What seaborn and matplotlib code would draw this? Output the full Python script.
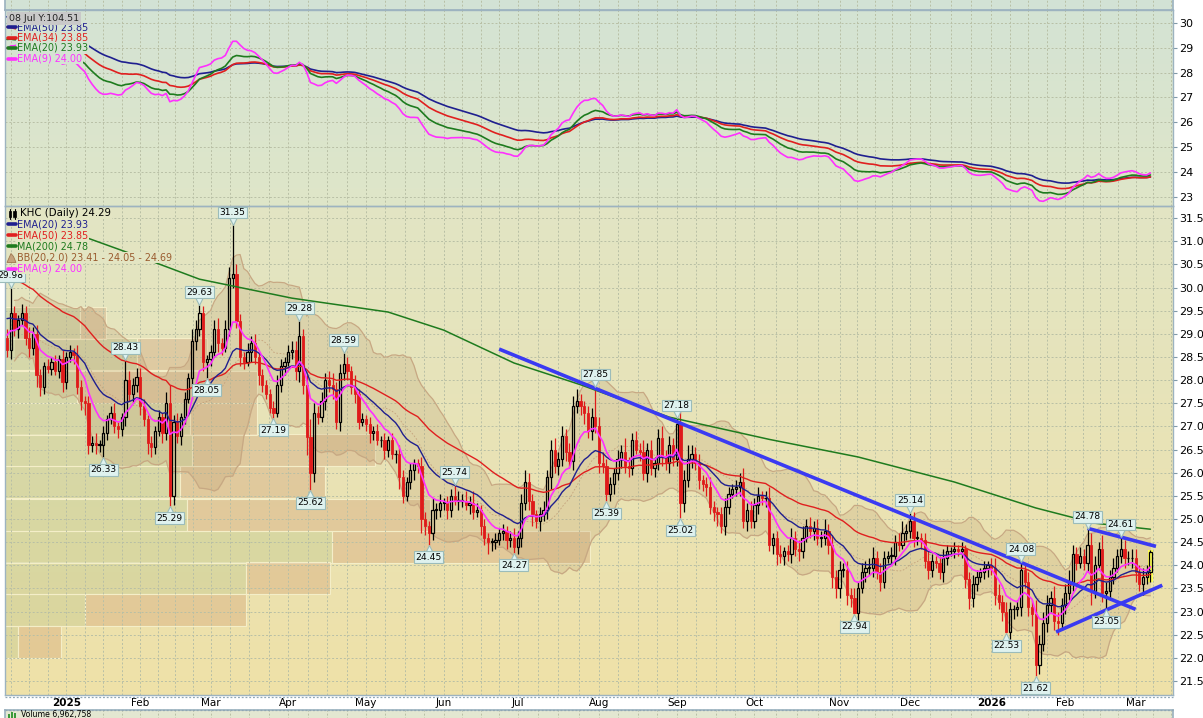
import numpy as np
import pandas as pd
import matplotlib
matplotlib.use("Agg")
import matplotlib.pyplot as plt
import seaborn as sns
from matplotlib import font_manager
from matplotlib.colors import LinearSegmentedColormap, to_rgba
from matplotlib.patches import Rectangle, Polygon
from matplotlib.lines import Line2D
from matplotlib.transforms import offset_copy

sns.set_theme(style="white")
plt.rcParams["font.family"] = ["DejaVu Sans"]

# ---------------- data ----------------
holidays = ["2024-12-25", "2025-01-01", "2025-01-09", "2025-01-20", "2025-02-17",
            "2025-04-18", "2025-05-26", "2025-06-19", "2025-07-04", "2025-09-01",
            "2025-11-27", "2025-12-25", "2026-01-01", "2026-01-19", "2026-02-16"]
dates = pd.bdate_range("2024-12-09", "2026-03-06", freq="C", holidays=holidays)

first_open = 28.90
close = [
    # Dec 2024
    28.65, 29.45, 29.10, 29.30, 29.45, 28.90, 28.70, 29.00, 28.10, 27.85, 28.30, 28.25, 28.40, 28.20, 28.45, 27.95,
    # Jan 2025
    28.50, 28.60, 28.55, 27.85, 27.55, 27.50, 26.60, 26.65, 26.60, 26.60, 26.85, 27.15, 27.30, 27.00, 26.95, 27.20,
    28.00, 27.70, 27.90, 28.07,
    # Feb
    27.45, 27.15, 26.65, 26.55, 26.90, 27.20, 26.85, 27.50, 25.50, 27.10, 26.80, 27.20, 27.60, 28.05, 28.85, 29.10,
    29.45, 28.40, 28.45,
    # Mar
    28.60, 29.10, 28.80, 28.70, 29.10, 30.20, 30.30, 29.27, 28.50, 28.40, 28.60, 28.80, 28.50, 28.10, 27.90, 27.70,
    27.40, 27.30, 27.90, 28.30, 28.40,
    # Apr
    28.60, 28.65, 28.20, 28.95, 27.90, 26.77, 26.00, 27.30, 27.20, 27.55, 28.00, 27.90, 27.80, 27.10, 28.15, 28.35,
    28.20, 27.85, 27.70, 27.10, 27.15,
    # May
    27.05, 26.85, 26.90, 26.70, 26.70, 26.50, 26.70, 26.40, 26.40, 25.90, 25.50, 25.80, 26.05, 26.20, 26.15, 25.00,
    24.85, 24.70, 25.20, 25.20, 25.35,
    # Jun
    25.35, 25.20, 25.50, 25.40, 25.40, 25.40, 25.30, 25.35, 25.15, 25.20, 24.85, 24.60, 24.50, 24.50, 24.55, 24.70,
    24.75, 24.55, 24.60, 24.40,
    # Jul
    24.60, 25.35, 25.80, 25.40, 25.10, 24.95, 25.10, 25.20, 25.90, 26.50, 26.15, 26.30, 26.80, 26.45, 26.25, 27.45,
    27.55, 27.45, 27.30, 26.90, 27.20, 27.00,
    # Aug
    26.20, 26.15, 25.55, 25.75, 26.00, 26.30, 26.45, 26.15, 26.10, 26.70, 26.50, 26.45, 26.00, 26.50, 26.10, 26.20,
    26.75, 26.35, 26.20, 26.60, 26.30,
    # Sep
    27.05, 25.35, 25.85, 26.30, 26.40, 26.20, 25.85, 25.75, 25.70, 25.25, 25.15, 25.10, 24.85, 25.25, 25.55, 25.65,
    25.70, 25.80, 24.95, 25.20, 24.95,
    # Oct
    25.30, 25.50, 25.45, 25.45, 24.45, 24.60, 24.25, 24.20, 24.30, 24.25, 24.60, 24.35, 24.30, 24.60, 24.85, 24.75,
    24.80, 24.60, 24.60, 24.75, 24.45, 23.75, 23.50,
    # Nov
    23.90, 23.90, 23.35, 23.30, 22.97, 23.50, 23.85, 23.95, 23.95, 24.15, 23.85, 23.65, 24.15, 24.20, 24.20, 24.50,
    24.45, 24.70, 24.75,
    # Dec
    24.95, 24.60, 24.60, 24.55, 24.10, 23.90, 24.10, 24.05, 23.85, 24.15, 24.30, 24.30, 24.35, 24.30, 24.35, 23.70,
    23.30, 23.60, 23.75, 23.85, 23.95, 24.00,
    # Jan 2026
    23.95, 23.35, 23.20, 23.00, 22.55, 23.05, 23.05, 23.10, 23.90, 23.65, 23.10, 22.95, 21.85, 22.30, 22.75, 23.15,
    23.30, 22.80, 22.75, 23.15,
    # Feb
    23.40, 23.65, 24.25, 24.05, 24.20, 24.05, 24.45, 23.45, 24.00, 24.35, 23.40, 23.45, 23.75, 23.95, 24.20, 24.35,
    24.15, 24.15, 24.15,
    # Mar
    23.85, 23.60, 23.75, 23.85, 24.29,
]

# wick lengths above / below the body, in cents
up_wick = [
    20, 53, 15, 10, 20, 15, 25, 15, 20, 15, 10, 15, 10, 15, 10, 20,
    10, 15, 10, 20, 15, 10, 15, 15, 20, 10, 15, 10, 15, 20, 10, 10, 40, 20, 15, 20,
    20, 15, 10, 15, 10, 15, 10, 25, 40, 15, 20, 10, 15, 10, 25, 20, 18, 15, 10,
    15, 20, 25, 10, 20, 25, 50, 20, 15, 10, 20, 15, 20, 10, 15, 10, 10, 15, 20, 15, 10,
    15, 20, 20, 30, 15, 20, 40, 20, 15, 20, 15, 20, 25, 15, 20, 20, 15, 10, 25, 10, 15,
    10, 15, 10, 15, 10, 15, 10, 15, 10, 20, 15, 10, 15, 10, 10, 20, 15, 10, 25, 15, 20,
    10, 15, 15, 20, 20, 15, 20, 15, 25, 15, 10, 15, 10, 10, 15, 10, 15, 10, 15, 20,
    15, 20, 25, 20, 15, 10, 15, 20, 15, 20, 25, 15, 20, 15, 20, 20, 25, 15, 10, 15, 20, 30,
    20, 25, 15, 15, 10, 20, 15, 30, 20, 15, 20, 15, 25, 15, 20, 15, 20, 25, 15, 20, 15,
    10, 35, 20, 30, 20, 15, 20, 10, 15, 20, 15, 10, 15, 20, 15, 10, 15, 20, 30, 15, 20,
    15, 20, 10, 15, 25, 10, 15, 20, 10, 15, 20, 15, 20, 25, 15, 20, 15, 20, 15, 25, 15, 20, 15,
    20, 15, 20, 15, 20, 15, 20, 15, 20, 25, 15, 20, 15, 10, 20, 15, 20, 25, 15,
    20, 20, 15, 10, 15, 20, 15, 10, 15, 20, 15, 10, 15, 10, 15, 10, 15, 20, 15, 10, 15, 10,
    15, 20, 25, 15, 20, 15, 10, 15, 18, 15, 20, 15, 30, 20, 25, 20, 15, 25, 20, 15,
    20, 25, 20, 15, 20, 15, 33, 25, 20, 15, 30, 20, 15, 20, 15, 26, 20, 15, 20,
    20, 15, 20, 15, 5,
]
down_wick = [
    15, 20, 15, 20, 10, 15, 20, 15, 25, 20, 15, 10, 15, 10, 15, 20,
    15, 10, 20, 15, 20, 25, 20, 15, 20, 15, 27, 15, 10, 15, 20, 15, 20, 15, 20, 15,
    20, 15, 25, 20, 15, 10, 20, 15, 21, 20, 15, 20, 15, 10, 15, 20, 15, 20, 35,
    15, 10, 20, 15, 10, 15, 20, 15, 20, 15, 10, 20, 15, 20, 15, 10, 11, 15, 10, 15, 20,
    10, 15, 20, 25, 20, 38, 30, 20, 15, 10, 20, 15, 20, 15, 20, 15, 20, 15, 20, 15, 10,
    15, 20, 15, 10, 15, 20, 15, 10, 20, 25, 15, 10, 15, 20, 15, 30, 20, 25, 15, 20, 15,
    15, 20, 15, 10, 20, 15, 10, 20, 15, 10, 20, 15, 25, 20, 15, 10, 15, 20, 15, 13,
    15, 20, 15, 20, 25, 15, 20, 15, 20, 25, 15, 20, 15, 20, 15, 20, 15, 20, 25, 15, 20, 15,
    20, 15, 16, 15, 20, 15, 20, 15, 20, 15, 10, 20, 15, 20, 15, 20, 15, 20, 15, 20, 15,
    15, 33, 20, 15, 20, 15, 20, 15, 20, 15, 20, 25, 15, 20, 15, 10, 15, 20, 15, 20, 15,
    15, 20, 15, 20, 15, 20, 25, 15, 20, 15, 20, 15, 20, 15, 10, 15, 20, 15, 20, 15, 20, 25, 20,
    20, 15, 20, 20, 3, 15, 10, 20, 15, 20, 15, 20, 15, 10, 15, 20, 15, 10, 15,
    15, 20, 15, 20, 15, 20, 15, 10, 15, 20, 15, 10, 15, 10, 15, 20, 25, 20, 15, 10, 15, 20,
    15, 20, 15, 20, 2, 15, 20, 15, 20, 15, 20, 25, 23, 20, 15, 20, 15, 20, 25, 15,
    20, 15, 20, 15, 10, 15, 20, 30, 15, 10, 20, 40, 20, 15, 10, 15, 20, 15, 20,
    20, 15, 25, 15, 20,
]

# labelled swing highs / lows
label_dates = ["2024-12-10", "2025-01-17", "2025-01-28", "2025-02-13", "2025-02-26", "2025-02-28",
               "2025-03-11", "2025-03-26", "2025-04-04", "2025-04-09", "2025-04-23", "2025-05-27",
               "2025-06-05", "2025-06-30", "2025-07-31", "2025-08-05", "2025-09-02", "2025-09-03",
               "2025-11-07", "2025-12-01", "2026-01-08", "2026-01-14", "2026-01-21", "2026-02-10",
               "2026-02-18", "2026-02-24"]
label_values = [29.98, 26.33, 28.43, 25.29, 29.63, 28.05, 31.35, 27.19, 29.28, 25.62, 28.59, 24.45,
                25.74, 24.27, 27.85, 25.39, 27.18, 25.02, 22.94, 25.14, 22.53, 24.08, 21.62, 24.78,
                23.05, 24.61]
label_side = ["hi", "lo", "hi", "lo", "hi", "lo", "hi", "lo", "hi", "lo", "hi", "lo",
              "hi", "lo", "hi", "lo", "hi", "lo", "lo", "hi", "lo", "hi", "lo", "hi", "lo", "hi"]

# 200-day MA
ma200_dates = ["2025-01-10", "2025-02-05", "2025-02-26", "2025-04-02", "2025-05-09", "2025-06-02",
               "2025-06-30", "2025-07-25", "2025-08-28", "2025-10-07", "2025-11-10", "2025-12-17",
               "2026-01-21", "2026-02-12", "2026-03-06"]
ma200_values = [31.09, 30.60, 30.18, 29.77, 29.47, 29.08, 28.37, 27.90, 27.20, 26.72, 26.34, 25.80,
                25.24, 24.91, 24.78]

# EMA values just before the first bar
ema_seed = {9: 29.05, 20: 29.40, 34: 29.90, 50: 30.30}

# volume by price (millions of shares)
vbp_low = [22.00, 22.69, 23.38, 24.05, 24.74, 25.45, 26.14, 26.81, 27.50, 28.22, 28.89]
vbp_up = [13, 80, 241, 327, 182, 175, 187, 185, 72, 132, 75]
vbp_down = [43, 161, 84, 258, 243, 145, 183, 67, 180, 70, 26]

# hand-drawn trend lines (bar number, price)
trend_bars = [[133, 305], [292, 310.5], [283.5, 312.2]]
trend_prices = [[28.67, 23.05], [24.80, 24.41], [22.56, 23.57]]

top_legend = ["EMA(50) 23.85", "EMA(34) 23.85", "EMA(20) 23.93", "EMA(9) 24.00"]
main_legend = ["KHC (Daily) 24.29", "EMA(20) 23.93", "EMA(50) 23.85", "MA(200) 24.78",
               "BB(20,2.0) 23.41 - 24.05 - 24.69", "EMA(9) 24.00"]
tooltip = "08 Jul Y:104.51"
volume_title = "Volume 6,962,758"

# ---------------- derived series ----------------
n = len(close)
x = np.arange(n)
c = np.array(close)
o = np.r_[first_open, c[:-1]]
hi = np.maximum(o, c) + np.array(up_wick) / 100
lo = np.minimum(o, c) - np.array(down_wick) / 100
lab_idx = [dates.get_loc(pd.Timestamp(d)) for d in label_dates]
for i, v, s in zip(lab_idx, label_values, label_side):
    if s == "hi":
        hi[i] = v
    else:
        lo[i] = v


def ema(vals, span, seed):
    a = 2.0 / (span + 1)
    out, e = [], seed
    for v in vals:
        e = e + a * (v - e)
        out.append(e)
    return np.array(out)


emas = {k: ema(c, k, s) for k, s in ema_seed.items()}
s_c = pd.Series(c)
bb_mid = s_c.rolling(20, min_periods=3).mean().to_numpy()
bb_sd = s_c.rolling(20, min_periods=3).std(ddof=0).to_numpy()
bb_up, bb_lo = bb_mid + 2 * bb_sd, bb_mid - 2 * bb_sd
ma_x = np.array([dates.get_loc(pd.Timestamp(d)) for d in ma200_dates])

pos = pd.Series(x, index=dates)
firsts = pos.groupby([dates.year, dates.month]).first()
majors = [(int(v), y, m) for (y, m), v in firsts.items() if v > 0]
maj_x = [m[0] for m in majors]
grid_x = list(maj_x)
for a, b in zip(maj_x[:-1], maj_x[1:]):
    grid_x += [a + k * (b - a) / 4 for k in (1, 2, 3)]
grid_x += [maj_x[0] - 5 * k for k in (1, 2, 3)]
step = (maj_x[-1] - maj_x[-2]) / 4
grid_x += [maj_x[-1] + step * k for k in (1, 2)]
month_names = ["Jan", "Feb", "Mar", "Apr", "May", "Jun", "Jul", "Aug", "Sep", "Oct", "Nov", "Dec"]
tick_labels = [str(y) if m == 1 else month_names[m - 1] for _, y, m in majors]

# ---------------- style ----------------
avail = {f.name for f in font_manager.fontManager.ttflist}
NARROW = "Liberation Sans Narrow" if "Liberation Sans Narrow" in avail else "DejaVu Sans"
NS = 1.0 if NARROW != "DejaVu Sans" else 0.82

NAVY, RED, GREEN, MAGENTA, BROWN = "#1f1f8f", "#e01f1f", "#1e7b1e", "#ff30ff", "#9a5b2e"
CANDLE_RED = "#df1a1a"
GRID = "#b8bfa5"
SPINE = "#9db3c0"
XL = (-0.54, 315.1)
MAIN_YL = (21.20, 31.76)
TOP_YL = (22.64, 30.51)

W, H = 1203, 718
fig = plt.figure(figsize=(W / 100, H / 100), dpi=100, facecolor="white")


def add_px_axes(l, t, r, b, z):
    a = fig.add_axes([l / W, 1 - b / H, (r - l) / W, (b - t) / H])
    a.set_zorder(z)
    return a


def fp(px, py):
    return px / W, 1 - py / H


def paint(a, top, bottom):
    cmap = LinearSegmentedColormap.from_list("bg", [top, bottom])
    a.imshow(np.linspace(0, 1, 256).reshape(-1, 1), cmap=cmap, aspect="auto",
             extent=[0, 1, 0, 1], origin="upper")
    a.set_axis_off()


def style_panel(a, ylim, yticks, fmt):
    a.set_xlim(*XL)
    a.set_ylim(*ylim)
    a.patch.set_visible(False)
    for sp in a.spines.values():
        sp.set_color(SPINE)
        sp.set_linewidth(1.0)
    for gx in grid_x:
        a.axvline(gx, color=GRID, lw=0.7, ls=(0, (2, 2)), zorder=1)
    for gy in yticks:
        a.axhline(gy, color=GRID, lw=0.7, ls=(0, (2, 2)), zorder=1)
    a.yaxis.tick_right()
    a.set_yticks(yticks)
    a.set_yticklabels([fmt.format(v) for v in yticks])
    a.tick_params(axis="y", length=3, width=0.8, color="#7f98a8", pad=1.5,
                  labelsize=8, labelcolor="black", right=True, left=False)
    a.set_xlabel("")
    a.set_ylabel("")


# ---------------- backgrounds ----------------
paint(add_px_axes(5, -30, 1173, 10, 0), "#cfe0d8", "#d3e3d5")
paint(add_px_axes(5, 10, 1173, 206, 0), "#d4e3d4", "#dfe6c8")
paint(add_px_axes(5, 206, 1173, 695, 0), "#e2e5c4", "#efe1a8")
paint(add_px_axes(5, 710, 1173, 800, 0), "#e3e8d2", "#e8e6c4")

# sliver of the panel above
ax_s = add_px_axes(5, -30, 1173, 10, 2)
ax_s.set_xlim(*XL)
ax_s.patch.set_visible(False)
for gx in grid_x:
    ax_s.axvline(gx, color=GRID, lw=0.7, ls=(0, (2, 2)))
ax_s.set_xticks([])
ax_s.set_yticks([])
for sp in ax_s.spines.values():
    sp.set_color(SPINE)

# ---------------- top panel: EMAs ----------------
ax_t = add_px_axes(5, 10, 1173, 206, 2)
style_panel(ax_t, TOP_YL, list(range(23, 31)), "{:.0f}")
ax_t.set_xticks([])
for span, col in [(50, NAVY), (34, RED), (20, GREEN), (9, MAGENTA)]:
    sns.lineplot(x=x, y=emas[span], ax=ax_t, color=col, lw=1.2, legend=False, zorder=4)
ax_t.set_xlim(*XL)
ax_t.set_ylim(*TOP_YL)
ax_t.set_xlabel("")
ax_t.set_ylabel("")

# ---------------- main panel ----------------
ax_v = add_px_axes(5, 206, 1173, 695, 1)
ax_v.barh(vbp_low, vbp_up, height=0.69, left=0, align="edge",
          facecolor=to_rgba("#9bb070", 0.22), edgecolor="#f4eec8", linewidth=0.8)
ax_v.barh(vbp_low, vbp_down, height=0.69, left=vbp_up, align="edge",
          facecolor=to_rgba("#c8825a", 0.25), edgecolor="#f4eec8", linewidth=0.8)
ax_v.set_xlim(0, 1168)
ax_v.set_ylim(*MAIN_YL)
ax_v.set_axis_off()

ax = add_px_axes(5, 206, 1173, 695, 2)
style_panel(ax, MAIN_YL, list(np.arange(21.5, 31.51, 0.5)), "{:.1f}")

# Bollinger band
ax.fill_between(x, bb_lo, bb_up, color="#b8976b", alpha=0.22, lw=0, zorder=2)
ax.plot(x, bb_up, color="#c7a883", lw=0.9, zorder=2.5)
ax.plot(x, bb_lo, color="#c7a883", lw=0.9, zorder=2.5)
ax.plot(x, bb_mid, color="#c4a27c", lw=0.6, ls=(0, (2, 2)), zorder=2.5)

# last bar highlight
ax.add_patch(Rectangle((x[-1] - 0.6, lo[-1]), 1.2, hi[-1] - lo[-1], facecolor="#ffff55",
                       edgecolor="none", zorder=4))

# candles
up = c >= o
wick_col = np.where(up, "black", CANDLE_RED)
body_top, body_bot = np.maximum(o, c), np.minimum(o, c)
ax.vlines(x, body_top, hi, colors=wick_col, lw=0.9, zorder=5)
ax.vlines(x, lo, body_bot, colors=wick_col, lw=0.9, zorder=5)
ax.bar(x[up], np.maximum(c - o, 0.015)[up], bottom=o[up], width=0.6, facecolor="none",
       edgecolor="black", linewidth=0.9, zorder=5)
ax.bar(x[~up], (o - c)[~up], bottom=c[~up], width=0.6, facecolor=CANDLE_RED,
       edgecolor=CANDLE_RED, linewidth=0.6, zorder=5)

# moving averages
sns.lineplot(x=ma_x, y=ma200_values, ax=ax, color=GREEN, lw=1.1, legend=False, zorder=6)
sns.lineplot(x=x, y=emas[50], ax=ax, color=RED, lw=1.0, legend=False, zorder=6)
sns.lineplot(x=x, y=emas[20], ax=ax, color=NAVY, lw=1.0, legend=False, zorder=6)
sns.lineplot(x=x, y=emas[9], ax=ax, color=MAGENTA, lw=1.2, legend=False, zorder=6)

# trend lines
for tb, tp in zip(trend_bars, trend_prices):
    ax.plot(tb, tp, color="#3a3af2", lw=2.6, solid_capstyle="butt", zorder=7)

# price labels
for i, v, s in zip(lab_idx, label_values, label_side):
    sign = 1 if s == "hi" else -1
    tri = offset_copy(ax.transData, fig=fig, x=0, y=4 * sign, units="dots")
    ax.plot([i], [v], marker="v" if s == "hi" else "^", ms=5.5, mfc="#dff2ef", mec="#9bbcba",
            mew=0.8, transform=tri, zorder=8.5, clip_on=False, ls="none")
    ax.annotate(f"{v:.2f}", xy=(i, v), xytext=(0, 9 * sign), textcoords="offset points",
                ha="center", va="center", fontsize=8 * NS, family=NARROW, color="black",
                bbox=dict(boxstyle="square,pad=0.15", fc="#dff2ef", ec="#9bbcba", lw=0.8),
                zorder=9, annotation_clip=False)

ax.set_xlim(*XL)
ax.set_ylim(*MAIN_YL)
ax.set_xlabel("")
ax.set_ylabel("")
ax.set_xticks(maj_x)
ax.set_xticklabels(tick_labels)
ax.tick_params(axis="x", length=0, pad=2.5, labelsize=7.5, labelcolor="black", bottom=True)
for t, (_, y, m) in zip(ax.get_xticklabels(), majors):
    if m == 1:
        t.set_fontweight("bold")

# ---------------- volume panel (cut off) ----------------
ax_vol = add_px_axes(5, 710, 1173, 800, 2)
ax_vol.set_xlim(*XL)
ax_vol.patch.set_visible(False)
ax_vol.set_xticks([])
ax_vol.set_yticks([])
for sp in ax_vol.spines.values():
    sp.set_color(SPINE)
for gx in grid_x:
    ax_vol.axvline(gx, color=GRID, lw=0.7, ls=(0, (2, 2)))

# date strip borders
for yy in (696.5, 709.5):
    fig.add_artist(Line2D([5 / W, 1173 / W], [1 - yy / H] * 2, color="#8fa6b4", lw=0.9,
                          ls=(0, (1.5, 1.5)), transform=fig.transFigure, zorder=5))

# ---------------- legends ----------------
def legend_entry(text, ypx, col, bg, marker="line", tcol=None):
    fx, fy = fp(17, ypx)
    fig.text(fx, fy, text, color=tcol or col, fontsize=8.5 * NS, family=NARROW, va="center",
             ha="left", zorder=10,
             bbox=dict(boxstyle="square,pad=0.08", fc=bg, ec="none"))
    if marker == "line":
        fig.add_artist(Line2D([8 / W, 16 / W], [fy, fy], color=col, lw=2.6,
                              transform=fig.transFigure, zorder=11))


for txt, ypx, col in zip(top_legend, [27, 37.5, 48, 58.5], [NAVY, RED, GREEN, MAGENTA]):
    legend_entry(txt, ypx, col, "#d5e3d3")

fig.text(*fp(9, 18.5), tooltip, color="#222222", fontsize=8.3 * NS, family=NARROW, va="center",
         ha="left", zorder=12, bbox=dict(boxstyle="square,pad=0.2", fc="#c9c9c9", ec="none"))

main_cols = ["black", NAVY, RED, GREEN, BROWN, MAGENTA]
main_y = [213.5, 224.5, 235.5, 246.5, 257.5, 268.5]
for txt, ypx, col in zip(main_legend, main_y, main_cols):
    if txt.startswith("KHC"):
        fx, fy = fp(20, ypx)
        fig.text(fx, fy, txt, color="black", fontsize=9 * NS, family=NARROW, va="center",
                 ha="left", zorder=10, bbox=dict(boxstyle="square,pad=0.08", fc="#e3e5c3", ec="none"))
        for cx in (10, 14.5):
            fig.add_artist(Rectangle(fp(cx - 1.5, ypx + 3), 3 / W, 6 / H, facecolor="black",
                                     edgecolor="black", lw=0.5, transform=fig.transFigure, zorder=11))
            fig.add_artist(Line2D([cx / W] * 2, [1 - (ypx + 5) / H, 1 - (ypx - 5) / H], color="black",
                                  lw=0.8, transform=fig.transFigure, zorder=11))
    elif txt.startswith("BB"):
        legend_entry(txt, ypx, col, "#e3e5c3", marker="none")
        pts = [fp(7, ypx + 5), fp(11, ypx - 4), fp(13.5, ypx - 1), fp(16, ypx + 5)]
        fig.add_artist(Polygon(pts, closed=True, facecolor="#c4a27c", edgecolor="#a07850", lw=0.6,
                               transform=fig.transFigure, zorder=11))
    else:
        legend_entry(txt, ypx, col, "#e3e5c3")

# volume title (panel is cut by the bottom edge, as in the original)
fig.text(*fp(21, 710.5), volume_title, color="black", fontsize=6.8 * NS, family=NARROW, va="top",
         ha="left", zorder=10)
for k, hgt in enumerate([4, 6, 5]):
    fig.add_artist(Rectangle(fp(8 + 3 * k, 717.5), 2.4 / W, hgt / H, facecolor="#3a9a3a",
                             edgecolor="none", transform=fig.transFigure, zorder=11))

fig.savefig("out.png", dpi=100, facecolor="white")
